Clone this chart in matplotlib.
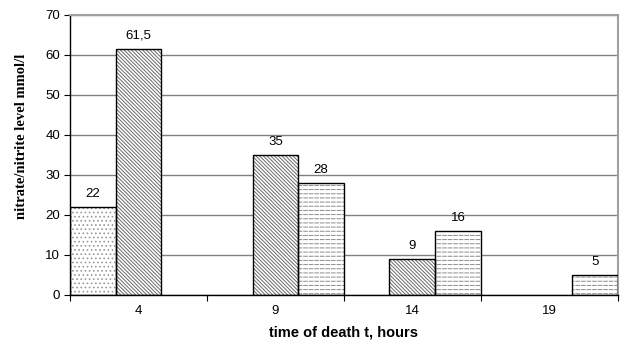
import numpy as np
import matplotlib.pyplot as plt

plt.rcParams['hatch.linewidth'] = 0.7

categories = ['4', '9', '14', '19']
series_dots = [22, 0, 0, 0]
series_diag = [61.5, 35, 9, 0]
series_dash = [0, 28, 16, 5]
labels_dots = ['22', '', '', '']
labels_diag = ['61,5', '35', '9', '']
labels_dash = ['', '28', '16', '5']

fig = plt.figure(figsize=(6.24, 3.47), dpi=100)
ax = fig.add_axes([0.112, 0.150, 0.878, 0.808])

x = np.arange(len(categories))
w = 1 / 3.0

styles = [
    (series_dots, labels_dots, '....', '#999999', -w),
    (series_diag, labels_diag, '\\' * 9, '#6a6a6a', 0),
    (series_dash, labels_dash, '----', '#8a8a8a', w),
]
for vals, labs, hatch, hc, off in styles:
    for xi, v, lab in zip(x, vals, labs):
        if v <= 0:
            continue
        ax.bar(xi + off, v, width=w, color='white', edgecolor=hc,
               hatch=hatch, linewidth=0, zorder=2)
        if hatch == '----':
            # break the horizontal lines into dashes
            ax.bar(xi + off, v, width=w, fill=False, edgecolor='white',
                   hatch='|||', linewidth=0, zorder=2.5)
        ax.bar(xi + off, v, width=w, fill=False, edgecolor='black',
               linewidth=1.0, zorder=3)
        ax.text(xi + off, v + 1.8, lab, ha='center', va='bottom',
                fontsize=9.5, family='Liberation Sans')

ax.set_xlim(-0.5, 3.5)
ax.set_ylim(0, 70)
ax.set_yticks(range(0, 71, 10))
ax.yaxis.grid(True, color='#808080', linewidth=1.0, zorder=0)
ax.set_axisbelow(True)

ax.set_xticks(x)
ax.set_xticklabels(categories, family='Liberation Sans', fontsize=9.5)
ax.set_xticks(np.arange(-0.5, 4.0, 1.0), minor=True)
ax.tick_params(axis='x', which='major', length=0, pad=7)
ax.tick_params(axis='x', which='minor', length=4, width=0.8, direction='out')
ax.tick_params(axis='y', length=4, width=0.8, labelsize=9.5, pad=3)
for t in ax.get_yticklabels():
    t.set_family('Liberation Sans')

ax.spines['top'].set_color('#a0a0a0')
ax.spines['right'].set_color('#a0a0a0')
ax.spines['top'].set_linewidth(1.5)
ax.spines['right'].set_linewidth(1.5)
ax.spines['left'].set_linewidth(1.0)
ax.spines['bottom'].set_linewidth(1.0)

fig.text(22 / 624, 1 - 136 / 347, 'nitrate/nitrite level mmol/l',
         family='Liberation Serif', fontweight='bold', fontsize=10.5,
         rotation=90, ha='center', va='center')
ax.set_xlabel('time of death t, hours', family='Liberation Sans',
              fontweight='bold', fontsize=10.5, labelpad=6)

fig.savefig('out.png', dpi=100)
